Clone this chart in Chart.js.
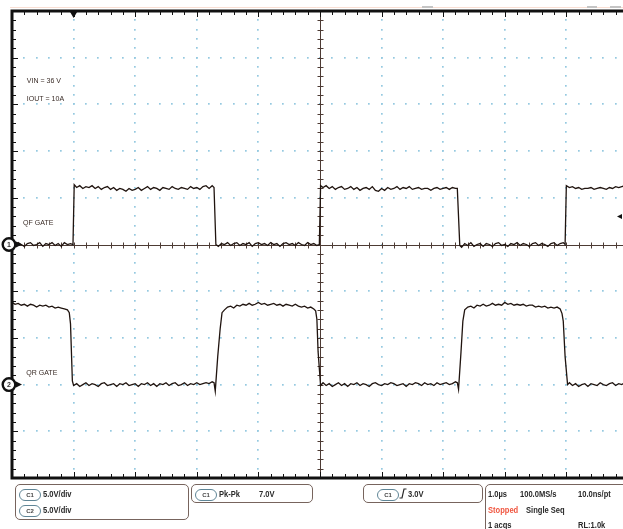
<!DOCTYPE html>
<html>
<head>
<meta charset="utf-8">
<script src="https://cdn.jsdelivr.net/npm/chart.js@4.4.1/dist/chart.umd.min.js"></script>
<style>
  body { margin: 0; background: #fff; }
  #wrap { position: relative; width: 623px; height: 529px; overflow: hidden; }
  #scope { position: absolute; left: 0; top: 0; }
  .box { position: absolute; border: 1.5px solid #77645d; border-radius: 5px; box-sizing: border-box; }
  .pill { position: absolute; width: 22px; height: 12px; box-sizing: border-box; border: 1.3px solid #5f8596;
          border-radius: 7px; font: bold 6px 'Liberation Sans', sans-serif; color: #444;
          text-align: center; line-height: 10px; }
  .t { position: absolute; font: bold 9px 'Liberation Sans', Arial, sans-serif; color: #2a2a2a;
       white-space: nowrap; line-height: 10px; transform: scaleX(0.84); transform-origin: left center; }
  .red { color: #f0553f; }
  .menu { position: absolute; top: 6px; height: 2px; background: #c4c4c4; }
</style>
</head>
<body>
<div id="wrap">
  <canvas id="scope" width="623" height="529"></canvas>

  <div class="menu" style="left:422px;width:11px"></div>
  <div class="menu" style="left:587px;width:10px"></div>
  <div class="menu" style="left:610px;width:11px"></div>

  <div class="box" style="left:15px;top:484px;width:174px;height:36px"></div>
  <div class="pill" style="left:19px;top:489px">C1</div>
  <div class="t" style="left:43px;top:489px">5.0V/div</div>
  <div class="pill" style="left:19px;top:505px">C2</div>
  <div class="t" style="left:43px;top:505px">5.0V/div</div>

  <div class="box" style="left:191px;top:484px;width:122px;height:19px"></div>
  <div class="pill" style="left:195px;top:489px">C1</div>
  <div class="t" style="left:219px;top:489px">Pk-Pk</div>
  <div class="t" style="left:259px;top:489px">7.0V</div>

  <div class="box" style="left:363px;top:484px;width:120px;height:19px"></div>
  <div class="pill" style="left:377px;top:489px">C1</div>
  <svg style="position:absolute;left:399px;top:488px" width="8" height="11">
    <path d="M0.5 10 L3 10 L5 1 L7.5 1" fill="none" stroke="#2a2a2a" stroke-width="1.2"/>
  </svg>
  <div class="t" style="left:408px;top:489px">3.0V</div>

  <div class="box" style="left:485px;top:484px;width:150px;height:60px"></div>
  <div class="t" style="left:488px;top:489px">1.0µs</div>
  <div class="t" style="left:520px;top:489px">100.0MS/s</div>
  <div class="t" style="left:578px;top:489px">10.0ns/pt</div>
  <div class="t red" style="left:488px;top:505px">Stopped</div>
  <div class="t" style="left:526px;top:505px">Single Seq</div>
  <div class="t" style="left:488px;top:520px">1 acqs</div>
  <div class="t" style="left:578px;top:520px">RL:1.0k</div>
</div>

<script>
// channel setup
const channelNames = ['QF GATE', 'QR GATE'];
const voltsPerDiv = [5, 5];
const groundDiv = [0, -3];
const triggerTime = -4.0;   // µs
const triggerLevel = 3.0;   // V on C1

// QF GATE (C1), time in µs, volts
const qfTime = [
  -5.00, -4.95, -4.90, -4.85, -4.80, -4.75, -4.70, -4.65, -4.60, -4.55, -4.50, -4.45, -4.40, -4.35, -4.30, -4.25, -4.20, -4.15, -4.10, -4.05,
  -4.01, -3.99,
  -3.95, -3.90, -3.85, -3.80, -3.75, -3.70, -3.65, -3.60, -3.55, -3.50, -3.45, -3.40, -3.35, -3.30, -3.25, -3.20, -3.15, -3.10, -3.05, -3.00,
  -2.95, -2.90, -2.85, -2.80, -2.75, -2.70, -2.65, -2.60, -2.55, -2.50, -2.45, -2.40, -2.35, -2.30, -2.25, -2.20, -2.15, -2.10, -2.05, -2.00,
  -1.95, -1.90, -1.85, -1.80, -1.75,
  -1.72, -1.69,
  -1.65, -1.60, -1.55, -1.50, -1.45, -1.40, -1.35, -1.30, -1.25, -1.20, -1.15, -1.10, -1.05, -1.00, -0.95, -0.90, -0.85, -0.80, -0.75, -0.70,
  -0.65, -0.60, -0.55, -0.50, -0.45, -0.40, -0.35, -0.30, -0.25, -0.20, -0.15, -0.10, -0.05,
  -0.01, 0.01,
  0.05, 0.10, 0.15, 0.20, 0.25, 0.30, 0.35, 0.40, 0.45, 0.50, 0.55, 0.60, 0.65, 0.70, 0.75, 0.80, 0.85, 0.90, 0.95, 1.00,
  1.05, 1.10, 1.15, 1.20, 1.25, 1.30, 1.35, 1.40, 1.45, 1.50, 1.55, 1.60, 1.65, 1.70, 1.75, 1.80, 1.85, 1.90, 1.95, 2.00,
  2.05, 2.10, 2.15, 2.20,
  2.23, 2.27,
  2.30, 2.35, 2.40, 2.45, 2.50, 2.55, 2.60, 2.65, 2.70, 2.75, 2.80, 2.85, 2.90, 2.95, 3.00, 3.05, 3.10, 3.15, 3.20, 3.25,
  3.30, 3.35, 3.40, 3.45, 3.50, 3.55, 3.60, 3.65, 3.70, 3.75, 3.80, 3.85, 3.90, 3.95,
  3.98, 4.00,
  4.05, 4.10, 4.15, 4.20, 4.25, 4.30, 4.35, 4.40, 4.45, 4.50, 4.55, 4.60, 4.65, 4.70, 4.75, 4.80, 4.85, 4.90, 4.95
];
const qfVolts = [
  0.1, -0.1, 0.2, 0.0, -0.2, 0.1, 0.2, -0.1, 0.0, 0.2, -0.2, 0.1, 0.0, 0.2, -0.1, 0.1, -0.2, 0.2, 0.0, 0.1,
  0.0, 6.4,
  6.1, 6.3, 6.0, 6.2, 6.1, 6.3, 6.0, 6.2, 5.9, 6.1, 6.2, 5.9, 6.1, 5.8, 6.0, 5.9, 5.7, 6.0, 5.8, 5.9,
  6.1, 5.8, 6.0, 6.2, 5.9, 6.1, 6.0, 5.8, 6.1, 6.0, 5.9, 6.2, 6.0, 5.9, 6.1, 6.0, 5.9, 6.2, 6.0, 6.1,
  5.9, 6.2, 6.3, 6.0, 6.3,
  6.1, 0.0,
  -0.2, 0.1, 0.0, 0.2, -0.1, 0.1, 0.2, -0.1, 0.1, 0.0, 0.2, -0.2, 0.1, 0.2, 0.0, 0.1, -0.1, 0.2, 0.0, 0.1,
  -0.2, 0.1, 0.2, 0.0, 0.1, -0.1, 0.2, 0.0, -0.1, 0.2, 0.0, 0.1, -0.1,
  0.0, 6.3,
  6.1, 6.3, 6.0, 6.2, 5.9, 6.1, 6.2, 5.9, 6.0, 6.2, 5.9, 6.1, 5.8, 6.0, 6.1, 5.9, 6.2, 5.8, 5.7, 6.0,
  5.8, 6.1, 5.9, 6.0, 6.2, 5.9, 6.1, 6.0, 6.2, 5.9, 6.0, 6.1, 5.9, 6.0, 6.0, 5.8, 6.0, 6.1, 5.9, 6.0,
  6.1, 5.9, 6.1, 6.0,
  6.0, -0.1,
  -0.3, 0.1, -0.1, 0.2, -0.2, 0.0, 0.1, -0.2, 0.1, 0.0, -0.2, 0.1, 0.2, -0.1, 0.0, -0.2, 0.1, 0.0, 0.2, -0.1,
  0.1, 0.0, -0.2, 0.1, 0.2, -0.1, 0.1, 0.0, -0.2, 0.1, 0.2, -0.1, 0.1, 0.2,
  0.0, 6.3,
  6.1, 6.2, 6.0, 6.1, 5.9, 6.0, 6.0, 6.1, 5.9, 6.0, 6.1, 6.0, 5.9, 6.1, 6.0, 6.2, 6.1, 6.2, 6.3
];

// QR GATE (C2), time in µs, volts
const qrTime = [
  -5.00, -4.95, -4.90, -4.85, -4.80, -4.75, -4.70, -4.65, -4.60, -4.55, -4.50, -4.45, -4.40, -4.35, -4.30, -4.25, -4.20, -4.15, -4.10,
  -4.07, -4.05, -4.02, -4.00,
  -3.95, -3.90, -3.85, -3.80, -3.75, -3.70, -3.65, -3.60, -3.55, -3.50, -3.45, -3.40, -3.35, -3.30, -3.25, -3.20, -3.15, -3.10, -3.05, -3.00,
  -2.95, -2.90, -2.85, -2.80, -2.75, -2.70, -2.65, -2.60, -2.55, -2.50, -2.45, -2.40, -2.35, -2.30, -2.25, -2.20, -2.15, -2.10, -2.05, -2.00,
  -1.95, -1.90, -1.85, -1.80, -1.75,
  -1.72, -1.70, -1.66, -1.62, -1.59, -1.55,
  -1.50, -1.45, -1.40, -1.35, -1.30, -1.25, -1.20, -1.15, -1.10, -1.05, -1.00, -0.95, -0.90, -0.85, -0.80, -0.75, -0.70, -0.65, -0.60, -0.55,
  -0.50, -0.45, -0.40, -0.35, -0.30, -0.25, -0.20, -0.15, -0.10,
  -0.07, -0.05, -0.03, 0.01,
  0.05, 0.10, 0.15, 0.20, 0.25, 0.30, 0.35, 0.40, 0.45, 0.50, 0.55, 0.60, 0.65, 0.70, 0.75, 0.80, 0.85, 0.90, 0.95, 1.00,
  1.05, 1.10, 1.15, 1.20, 1.25, 1.30, 1.35, 1.40, 1.45, 1.50, 1.55, 1.60, 1.65, 1.70, 1.75, 1.80, 1.85, 1.90, 1.95, 2.00,
  2.05, 2.10, 2.15, 2.20,
  2.23, 2.25, 2.29, 2.32, 2.35, 2.40,
  2.45, 2.50, 2.55, 2.60, 2.65, 2.70, 2.75, 2.80, 2.85, 2.90, 2.95, 3.00, 3.05, 3.10, 3.15, 3.20, 3.25, 3.30, 3.35, 3.40,
  3.45, 3.50, 3.55, 3.60, 3.65, 3.70, 3.75, 3.80, 3.85, 3.90,
  3.93, 3.95, 3.98, 4.02,
  4.05, 4.10, 4.15, 4.20, 4.25, 4.30, 4.35, 4.40, 4.45, 4.50, 4.55, 4.60, 4.65, 4.70, 4.75, 4.80, 4.85, 4.90, 4.95
];
const qrVolts = [
  8.8, 8.6, 8.7, 8.5, 8.6, 8.4, 8.6, 8.5, 8.3, 8.5, 8.4, 8.5, 8.3, 8.4, 8.2, 8.3, 8.2, 8.1, 8.0,
  7.7, 6.5, 0.4, -0.1,
  0.1, -0.2, 0.0, 0.2, -0.1, 0.1, 0.0, -0.2, 0.1, 0.2, -0.1, 0.0, 0.1, -0.2, 0.1, 0.0, 0.2, -0.1, 0.0, 0.1,
  -0.2, 0.1, 0.0, 0.2, -0.1, 0.1, -0.2, 0.1, 0.0, 0.2, -0.1, 0.1, 0.2, -0.1, 0.0, 0.2, -0.1, 0.1, 0.0, 0.2,
  0.0, 0.1, 0.2, 0.1, 0.3,
  0.2, -0.7, 3.0, 6.0, 7.7, 8.0,
  8.3, 8.4, 8.2, 8.5, 8.4, 8.6, 8.5, 8.7, 8.5, 8.6, 8.8, 8.6, 8.7, 8.5, 8.6, 8.7, 8.5, 8.6, 8.4, 8.6,
  8.5, 8.4, 8.6, 8.4, 8.3, 8.4, 8.2, 8.3, 8.1,
  7.9, 7.0, 3.5, -0.1,
  0.2, -0.1, 0.1, -0.2, 0.0, 0.2, -0.1, 0.1, -0.2, 0.1, 0.0, 0.2, -0.1, 0.1, 0.0, -0.2, 0.1, 0.2, 0.0, -0.1,
  0.1, 0.0, 0.2, 0.1, -0.1, 0.0, 0.1, -0.2, 0.1, 0.0, 0.2, 0.1, -0.1, 0.2, 0.0, 0.1, -0.1, 0.2, 0.0, 0.1,
  0.2, 0.0, 0.1, 0.3,
  0.2, -0.5, 3.5, 6.8, 8.0, 8.3,
  8.4, 8.2, 8.5, 8.4, 8.6, 8.4, 8.5, 8.7, 8.5, 8.6, 8.5, 8.8, 8.6, 8.7, 8.5, 8.6, 8.5, 8.6, 8.4, 8.5,
  8.5, 8.3, 8.4, 8.3, 8.4, 8.2, 8.3, 8.2, 8.3, 8.1,
  7.6, 6.8, 3.0, 0.0,
  0.2, -0.1, 0.1, -0.2, 0.0, 0.1, -0.2, 0.1, 0.0, -0.1, 0.2, 0.0, -0.1, 0.1, 0.2, -0.1, 0.1, 0.0, 0.2
];

// screen labels: [text, time µs, div]
const screenLabels = [
  ['VIN = 36 V', -4.76, 3.5],
  ['IOUT = 10A', -4.76, 3.12],
  [channelNames[0], -4.82, 0.47],
  [channelNames[1], -4.77, -2.75]
];

const toPoints = (t, v, ch) => t.map((ti, i) => ({ x: ti, y: v[i] / voltsPerDiv[ch] + groundDiv[ch] }));

const scopeScreen = {
  id: 'scopeScreen',
  beforeDatasetsDraw(chart) {
    const { ctx, chartArea: a, scales: { x, y } } = chart;
    ctx.save();

    // dotted graticule, dots every 1/5 division
    ctx.fillStyle = '#95c9e0';
    for (let d = -4; d <= 4; d++) {
      if (d === 0) continue;
      const gx = x.getPixelForValue(d);
      const gy = y.getPixelForValue(d);
      for (let k = -50; k <= 50; k += 2) {
        const py = y.getPixelForValue(k / 10);
        ctx.fillRect(Math.round(gx) - 1, Math.round(py) - 1, 1.7, 1.7);
        const px = x.getPixelForValue(k / 10);
        if (px < a.right) ctx.fillRect(Math.round(px) - 1, Math.round(gy) - 1, 1.7, 1.7);
      }
    }

    // centre crosshair with minor ticks
    const cx = Math.round(x.getPixelForValue(0)) + 0.5;
    const cy = Math.round(y.getPixelForValue(0)) + 0.5;
    ctx.strokeStyle = '#4d3b34';
    ctx.lineWidth = 1;
    ctx.beginPath();
    ctx.moveTo(cx, a.top); ctx.lineTo(cx, a.bottom);
    ctx.moveTo(a.left, cy); ctx.lineTo(a.right, cy);
    for (let k = -50; k <= 50; k += 2) {
      const py = Math.round(y.getPixelForValue(k / 10)) + 0.5;
      ctx.moveTo(cx - 3, py); ctx.lineTo(cx + 3, py);
      const px = Math.round(x.getPixelForValue(k / 10)) + 0.5;
      ctx.moveTo(px, cy - 3); ctx.lineTo(px, cy + 3);
    }
    ctx.stroke();

    // text on screen, narrow like the scope font
    ctx.fillStyle = '#3a2c27';
    ctx.font = '8px "Liberation Sans", Arial, sans-serif';
    ctx.textBaseline = 'middle';
    screenLabels.forEach(([s, t, d]) => {
      ctx.save();
      ctx.translate(x.getPixelForValue(t), y.getPixelForValue(d));
      ctx.scale(0.88, 1);
      ctx.fillText(s, 0, 0);
      ctx.restore();
    });
    ctx.restore();
  },
  afterDraw(chart) {
    const { ctx, chartArea: a, scales: { x, y } } = chart;
    ctx.save();

    // faint halo above the frame
    ctx.strokeStyle = 'rgba(235,160,130,0.35)';
    ctx.lineWidth = 1;
    ctx.beginPath();
    ctx.moveTo(a.left - 2, a.top - 3.5); ctx.lineTo(a.right, a.top - 3.5);
    ctx.stroke();

    // thick frame, open on the right
    ctx.strokeStyle = '#111';
    ctx.lineWidth = 3;
    ctx.beginPath();
    ctx.moveTo(a.right + 2, a.top);
    ctx.lineTo(a.left, a.top);
    ctx.lineTo(a.left, a.bottom);
    ctx.lineTo(a.right + 2, a.bottom);
    ctx.stroke();

    // frame ticks
    ctx.lineWidth = 1;
    ctx.beginPath();
    for (let k = -50; k <= 50; k += 2) {
      const major = k % 10 === 0;
      const px = Math.round(x.getPixelForValue(k / 10)) + 0.5;
      if (px < a.right + 1 && k > -50) {
        ctx.moveTo(px, a.top); ctx.lineTo(px, a.top + (major ? 6 : 4));
        ctx.moveTo(px, a.bottom); ctx.lineTo(px, a.bottom - (major ? 6 : 4));
      }
      const py = Math.round(y.getPixelForValue(k / 10)) + 0.5;
      ctx.moveTo(a.left, py); ctx.lineTo(a.left + (major ? 6 : 4), py);
    }
    ctx.stroke();

    // trigger position marker
    const tx = x.getPixelForValue(triggerTime);
    ctx.fillStyle = '#111';
    ctx.beginPath();
    ctx.moveTo(tx - 3.5, a.top + 1); ctx.lineTo(tx + 3.5, a.top + 1); ctx.lineTo(tx, a.top + 7);
    ctx.closePath(); ctx.fill();

    // trigger level marker
    const ty = y.getPixelForValue(triggerLevel / voltsPerDiv[0] + groundDiv[0]);
    ctx.beginPath();
    ctx.moveTo(a.right - 6, ty); ctx.lineTo(a.right - 1, ty - 2.5); ctx.lineTo(a.right - 1, ty + 2.5);
    ctx.closePath(); ctx.fill();

    // channel ground markers
    groundDiv.forEach((g, i) => {
      const gy = y.getPixelForValue(g);
      ctx.fillStyle = '#111';
      ctx.beginPath();
      ctx.moveTo(a.left + 4, gy - 3); ctx.lineTo(a.left + 10, gy); ctx.lineTo(a.left + 4, gy + 3);
      ctx.closePath(); ctx.fill();
      ctx.beginPath();
      ctx.arc(a.left - 3, gy, 6.3, 0, Math.PI * 2);
      ctx.fillStyle = '#fff'; ctx.fill();
      ctx.lineWidth = 2.4; ctx.strokeStyle = '#111'; ctx.stroke();
      ctx.fillStyle = '#333';
      ctx.font = 'bold 7px "Liberation Sans", sans-serif';
      ctx.textAlign = 'center'; ctx.textBaseline = 'middle';
      ctx.fillText(String(i + 1), a.left - 3, gy + 0.5);
    });
    ctx.restore();
  }
};

const ctx = document.getElementById('scope');

new Chart(ctx, {
    type: 'scatter',
    data: {
        datasets: [{
            data: toPoints(qfTime, qfVolts, 0),
            showLine: true,
            borderColor: '#20140f',
            borderWidth: 1.3,
            pointRadius: 0,
            tension: 0
        }, {
            data: toPoints(qrTime, qrVolts, 1),
            showLine: true,
            borderColor: '#20140f',
            borderWidth: 1.3,
            pointRadius: 0,
            tension: 0
        }]
    },
    options: {
        responsive: false,
        animation: false,
        layout: {
            padding: { top: 11, left: 12, right: 0, bottom: 51 }
        },
        plugins: {
            legend: { display: false },
            tooltip: { enabled: false }
        },
        scales: {
            x: { type: 'linear', min: -5, max: 4.92, display: false },
            y: { type: 'linear', min: -5, max: 5, display: false }
        }
    },
    plugins: [scopeScreen]
});
</script>
</body>
</html>
